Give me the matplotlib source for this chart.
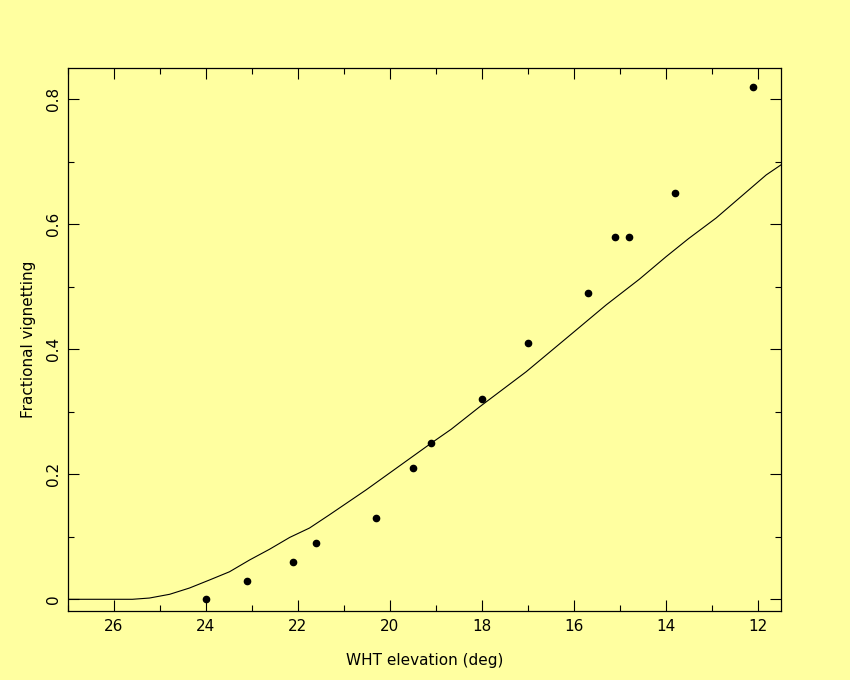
import matplotlib
matplotlib.use("Agg")
import matplotlib.pyplot as plt
from matplotlib.ticker import MultipleLocator

# === DATOS: puntos medidos ===
elev = [24.0, 23.1, 22.1, 21.6, 20.3, 19.5, 19.1, 18.0, 17.0, 15.7, 15.1, 14.8, 13.8, 12.1]
vign = [0.0, 0.03, 0.06, 0.09, 0.13, 0.21, 0.25, 0.32, 0.41, 0.49, 0.58, 0.58, 0.65, 0.82]

# === DATOS: curva del modelo ===
model_elev = [27.0, 25.6, 25.23, 24.79, 24.36, 23.92, 23.49, 23.05, 22.62, 22.18, 21.75,
              21.32, 20.52, 19.1, 18.67, 18.05, 17.04, 16.03, 15.30, 14.58, 14.0,
              13.51, 12.91, 11.82, 11.5]
model_vign = [0.0, 0.0, 0.002, 0.008, 0.018, 0.031, 0.044, 0.063, 0.080, 0.099, 0.114,
              0.135, 0.175, 0.25, 0.272, 0.308, 0.364, 0.426, 0.471, 0.512, 0.548,
              0.577, 0.61, 0.679, 0.695]

bg = "#ffffa0"

fig = plt.figure(figsize=(8.5, 6.8), dpi=100, facecolor=bg)
ax = fig.add_axes([0.08, 0.1015, 0.8388, 0.7985], facecolor=bg)

ax.plot(model_elev, model_vign, color="black", linewidth=0.8)
ax.plot(elev, vign, linestyle="none", marker="o", markersize=4.5, color="black")

ax.set_xlim(27, 11.5)
ax.set_ylim(-0.0187, 0.85)

ax.xaxis.set_major_locator(MultipleLocator(2))
ax.xaxis.set_minor_locator(MultipleLocator(1))
ax.yaxis.set_major_locator(MultipleLocator(0.2))
ax.yaxis.set_minor_locator(MultipleLocator(0.1))
ax.yaxis.set_major_formatter(plt.FuncFormatter(lambda v, p: "0" if abs(v) < 1e-9 else f"{v:.1f}"))

ax.tick_params(which="both", direction="in", top=True, right=True, width=0.8,
               color="black", labelsize=11)
ax.tick_params(which="major", length=8)
ax.tick_params(which="minor", length=4)
ax.tick_params(axis="x", pad=6)
ax.tick_params(axis="y", pad=5)
for lab in ax.get_yticklabels():
    lab.set_rotation(90)
    lab.set_va("center")

for s in ax.spines.values():
    s.set_linewidth(0.9)

ax.set_xlabel("WHT elevation (deg)", fontsize=11, labelpad=13.5)
ax.set_ylabel("Fractional vignetting", fontsize=11, labelpad=7)

fig.savefig("out.png", dpi=100, facecolor=bg)
